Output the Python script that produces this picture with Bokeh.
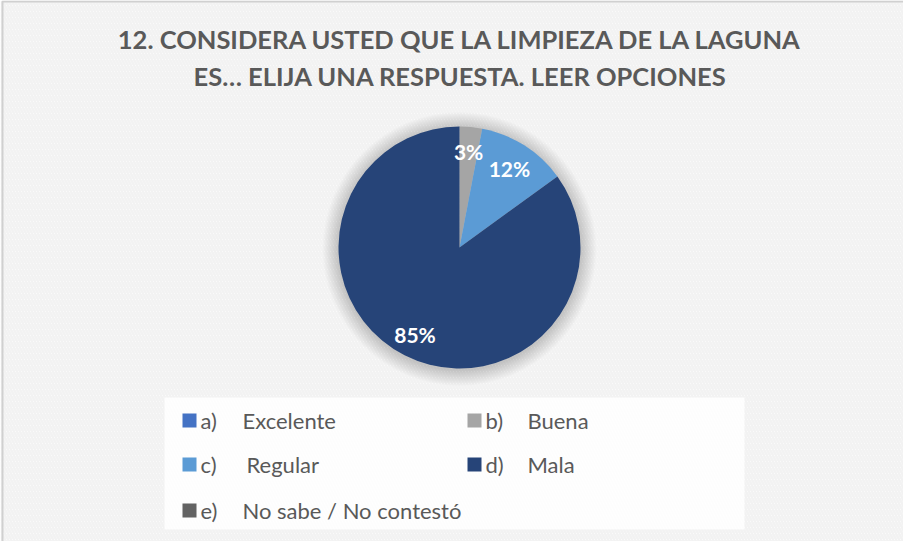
import numpy as np
from bokeh.plotting import figure
from bokeh.models import Range1d
from bokeh.core.properties import value
from bokeh.embed import file_html
from bokeh.resources import INLINE

# ---- data ----
title_lines = ["12. CONSIDERA USTED QUE LA LIMPIEZA DE LA LAGUNA",
               "ES… ELIJA UNA RESPUESTA. LEER OPCIONES"]
letters = ["a)", "b)", "c)", "d)", "e)"]
names = ["Excelente", "Buena", "Regular", "Mala", "No sabe / No contestó"]
values = [0, 3, 12, 85, 0]
colors = ["#4472C4", "#A5A5A5", "#5B9BD5", "#264478", "#636363"]

W, H = 903, 541
def X(xi):  # image x -> data x
    return xi - 8
def Y(yi):  # image y -> data y
    return 549 - yi

p = figure(width=W, height=H, output_backend="svg", toolbar_location=None,
           x_range=Range1d(0, W), y_range=Range1d(0, H), min_border=0)
p.axis.visible = False
p.grid.visible = False
p.outline_line_color = None
p.background_fill_color = "white"
p.border_fill_color = "white"

# hatched background
p.quad(left=0, right=W, bottom=0, top=H, fill_color="white", line_color=None,
       hatch_pattern="\\", hatch_color="#f2f2f2", hatch_scale=6, hatch_weight=2.5)
# chart border (left/top visible)
p.quad(left=X(10), right=W + 50, bottom=-50, top=Y(9), fill_color=None,
       line_color="#d0d0d0", line_width=2)

# title
for i, t in enumerate(title_lines):
    p.text(x=[X(468)], y=[Y(46 + 37 * i)], text=[t], text_align="center",
           text_baseline="middle", text_font=value("Lato"), text_font_style="bold",
           text_font_size="25.5px", text_color="#595959")

# pie
cx, cy, R = X(467), Y(255), 121
for k in range(16):
    p.circle(x=[cx], y=[cy - 1.5], radius=R + 1 + k, fill_color="#000000",
             fill_alpha=0.01, line_color=None)

vals = np.array(values, dtype=float)
frac = vals / vals.sum()
cum = np.concatenate([[0], np.cumsum(frac)])
starts = np.pi / 2 - 2 * np.pi * cum[:-1]
ends = np.pi / 2 - 2 * np.pi * cum[1:]
mask = vals > 0
p.wedge(x=cx, y=cy, radius=R, start_angle=list(starts[mask]), end_angle=list(ends[mask]),
        direction="clock", fill_color=[c for c, m in zip(colors, mask) if m],
        line_color=None)

# data labels
mid = (starts + ends) / 2
lab_r = {1: 0.80, 2: 0.77, 3: 0.81}
lx, ly, lt = [], [], []
for i in range(len(vals)):
    if vals[i] > 0:
        r = R * lab_r.get(i, 0.75)
        lx.append(cx + r * np.cos(mid[i]))
        ly.append(cy + r * np.sin(mid[i]))
        lt.append(f"{int(round(frac[i] * 100))}%")
p.text(x=lx, y=ly, text=lt, text_align="center", text_baseline="middle",
       text_font=value("Lato"), text_font_style="bold", text_font_size="21px",
       text_color="white")

# legend box
p.quad(left=X(172), right=X(752), bottom=Y(537), top=Y(405), fill_color="white",
       fill_alpha=0.85, line_color=None)
col_sq = [X(190), X(475)]
row_y = [Y(428), Y(472), Y(518)]
for i in range(len(names)):
    col, row = i % 2, i // 2
    sx = col_sq[col]
    sy = row_y[row]
    p.rect(x=[sx + 7], y=[sy], width=14, height=14, fill_color=colors[i], line_color=None)
    p.text(x=[sx + 18], y=[sy], text=[letters[i]], text_align="left", text_baseline="middle",
           text_font=value("Lato"), text_font_size="22px", text_color="#595959")
    name_x = sx + (64 if names[i] == "Regular" else 60)
    p.text(x=[name_x], y=[sy], text=[names[i]], text_align="left", text_baseline="middle",
           text_font=value("Lato"), text_font_size="22px", text_color="#595959")

open("out.html", "w").write(file_html(p, INLINE))
